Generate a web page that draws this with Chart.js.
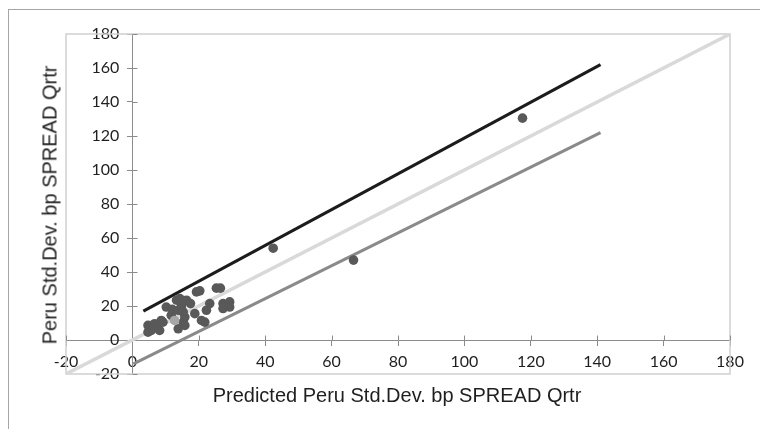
<!DOCTYPE html>
<html>
<head>
<meta charset="utf-8">
<script src="https://cdn.jsdelivr.net/npm/chart.js@4/dist/chart.umd.min.js"></script>
<style>
  html, body { margin: 0; padding: 0; background: #ffffff; }
  #wrap { position: relative; width: 760px; height: 429px; overflow: hidden; }
  #frame { position: absolute; left: 8px; top: 9px; width: 800px; height: 460px;
           border-left: 1px solid #a6a6a6; border-top: 1px solid #a6a6a6; }
  canvas { position: absolute; left: 0; top: 0; }
  .title { position: absolute; font-family: "Liberation Sans", Arial, sans-serif;
           font-size: 20px; color: #1f1f1f; white-space: nowrap; }
  #xTitle { left: 397px; top: 395px; transform: translate(-50%, -50%); }
  #yTitle { left: 50px; top: 205px; transform: translate(-50%, -50%) rotate(-90deg); }
</style>
</head>
<body>
<div id="wrap">
  <div id="frame"></div>
  <canvas id="c" width="760" height="429"></canvas>
  <div class="title" id="xTitle">Predicted Peru Std.Dev. bp SPREAD Qrtr</div>
  <div class="title" id="yTitle">Peru Std.Dev. bp SPREAD Qrtr</div>
</div>
<script>
// Quarterly spread volatility: model prediction vs. observed (bp)
const predicted = [4.7, 4.7, 5.7, 6.7, 7.5, 8.2, 8.7, 9.2, 10.2, 11.7, 12.0, 13.3, 13.8, 13.8,
                   14.3, 14.8, 15.3, 15.3, 15.8, 15.8, 16.3, 17.5, 18.8, 19.3, 20.3, 20.8,
                   21.8, 22.3, 23.3, 25.3, 26.5, 27.3, 27.3, 29.3, 29.3, 42.4, 66.6, 117.5];
const observed  = [4.6, 8.6, 5.6, 9.6, 7.5, 5.6, 11.5, 10.5, 19.4, 14.5, 18.0, 23.4, 17.5, 6.6,
                   24.4, 20.0, 10.5, 16.5, 8.6, 13.5, 23.4, 21.4, 15.5, 28.3, 28.9, 11.5,
                   10.5, 17.5, 21.4, 30.5, 30.5, 21.4, 18.5, 22.4, 19.4, 54.0, 47.0, 130.5];

// latest quarter, shown in a lighter shade
const latestX = [12.7];
const latestY = [11.5];

// upper / lower band and the 45-degree reference line (endpoints)
const upperX = [3.3, 141];
const upperY = [17, 162];
const lowerX = [0.3, 141];
const lowerY = [-14, 122];
const diagX = [-20, 180];
const diagY = [-20, 180];

const axisMin = -20;
const axisMax = 180;
const axisStep = 20;

const pts = (xs, ys) => xs.map((x, i) => ({ x: x, y: ys[i] }));

const AXIS_GRAY = '#8c8c8c';
const Y_LABEL_GAP = 13;

// plot-area frame plus tick marks on the inner side of each axis
const framePlugin = {
  id: 'frame',
  beforeDraw(chart) {
    // the y axis sits at x = 0; keep its labels clear of the tick marks
    const s = chart.scales.y;
    if (typeof s._computeLabelItems === 'function') {
      const items = s._computeLabelItems(chart.chartArea);
      items.forEach(it => {
        if (it.options && Array.isArray(it.options.translation)) {
          it.options.translation[0] -= Y_LABEL_GAP;
        }
      });
      s._labelItems = items;
    }
  },
  beforeDatasetsDraw(chart) {
    const { ctx, chartArea: a, scales } = chart;
    ctx.save();
    ctx.strokeStyle = '#cfcfcf';
    ctx.lineWidth = 1.5;
    ctx.strokeRect(a.left, a.top, a.right - a.left, a.bottom - a.top);
    ctx.strokeStyle = AXIS_GRAY;
    ctx.lineWidth = 1;
    const y0 = Math.round(scales.y.getPixelForValue(0)) + 0.5;
    const x0 = Math.round(scales.x.getPixelForValue(0)) + 0.5;
    scales.x.ticks.forEach(t => {
      const px = Math.round(scales.x.getPixelForValue(t.value)) + 0.5;
      ctx.beginPath(); ctx.moveTo(px, y0 - 5); ctx.lineTo(px, y0); ctx.stroke();
    });
    scales.y.ticks.forEach(t => {
      const py = Math.round(scales.y.getPixelForValue(t.value)) + 0.5;
      ctx.beginPath(); ctx.moveTo(x0, py); ctx.lineTo(x0 + 5, py); ctx.stroke();
    });
    ctx.restore();
  }
};

new Chart(document.getElementById('c'), {
  type: 'scatter',
  data: {
    datasets: [
      {
        data: pts(latestX, latestY),
        pointRadius: 4.8, pointBackgroundColor: '#a6a6a6', pointBorderWidth: 0
      },
      {
        data: pts(predicted, observed),
        pointRadius: 4.8, pointBackgroundColor: '#595959', pointBorderWidth: 0
      },
      {
        data: pts(upperX, upperY), showLine: true, pointRadius: 0,
        borderColor: '#1c1c1c', borderWidth: 3
      },
      {
        data: pts(lowerX, lowerY), showLine: true, pointRadius: 0,
        borderColor: '#8a8a8a', borderWidth: 3
      },
      {
        data: pts(diagX, diagY), showLine: true, pointRadius: 0,
        borderColor: '#d9d9d9', borderWidth: 3.5
      }
    ]
  },
  options: {
    responsive: false,
    animation: false,
    events: [],
    layout: { padding: { left: 66, right: 30, top: 34, bottom: 55 } },
    plugins: { legend: { display: false }, tooltip: { enabled: false } },
    scales: {
      x: {
        type: 'linear', position: { y: 0 },
        min: axisMin, max: axisMax,
        ticks: { stepSize: axisStep, color: '#1f1f1f', padding: 7, maxRotation: 0,
                 font: { family: 'Lato', size: 16 } },
        grid: { display: true, drawOnChartArea: false, drawTicks: true, tickLength: 5, color: AXIS_GRAY },
        border: { display: true, color: AXIS_GRAY, width: 1 }
      },
      y: {
        type: 'linear', position: { x: 0 },
        min: axisMin, max: axisMax,
        ticks: { stepSize: axisStep, color: '#1f1f1f', padding: 9,
                 font: { family: 'Lato', size: 16 } },
        grid: { display: true, drawOnChartArea: false, drawTicks: true, tickLength: 5, color: AXIS_GRAY },
        border: { display: true, color: AXIS_GRAY, width: 1 }
      }
    }
  },
  plugins: [framePlugin]
});
</script>
</body>
</html>
